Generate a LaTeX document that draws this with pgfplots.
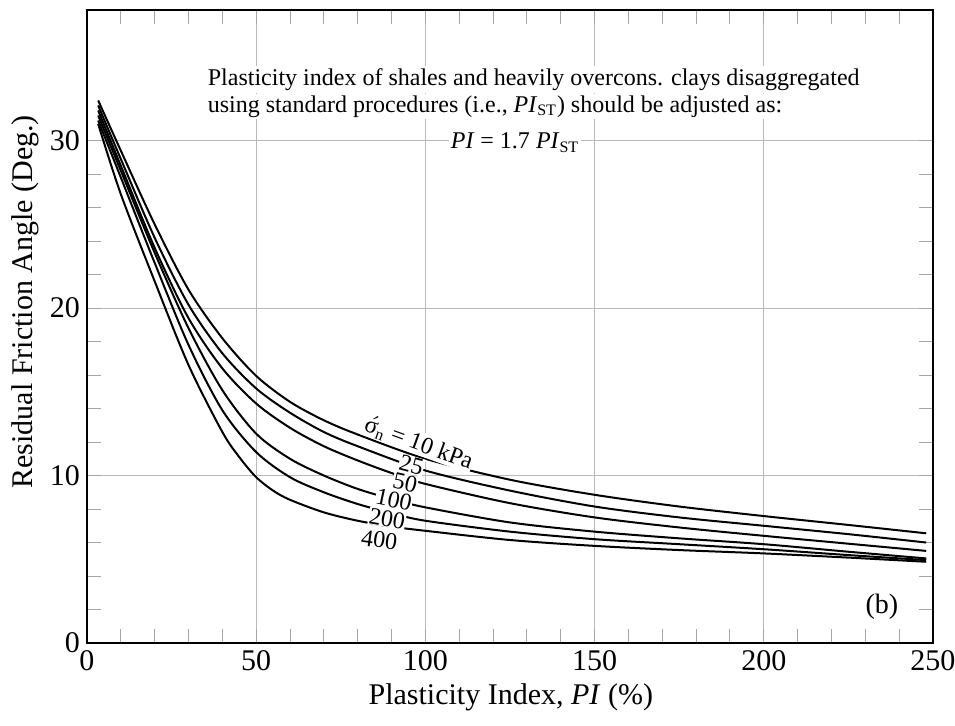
\documentclass[border=0pt]{standalone}
\usepackage{fontspec}
\setmainfont{Liberation Serif}
\usepackage{pgfplots}
\pgfplotsset{compat=1.18}
\begin{document}
\begin{tikzpicture}[crv/.style={black, line width=1pt, smooth, tension=0.5, no markers}]
\path[use as bounding box] (-43.5pt,-41pt) rectangle (434pt,321.5pt);
\begin{axis}[
  scale only axis, width=423pt, height=316.5pt,
  xmin=0, xmax=250, ymin=0, ymax=37.8,
  xtick={0,50,100,150,200,250}, ytick={0,10,20,30},
  minor x tick num=4, minor y tick num=4,
  grid=major, major grid style={gray!55, line width=0.5pt},
  axis line style={black, line width=1pt},
  tick style={gray!70, line width=0.5pt},
  major tick length=7pt, minor tick length=7pt,
  tick label style={font=\fontsize{15}{18}\selectfont},
  /pgf/number format/assume math mode=true,
  xlabel={Plasticity Index, \textit{PI} (\%)},
  ylabel={Residual Friction Angle (Deg.)},
  label style={font=\fontsize{15}{18}\selectfont},
  xlabel style={at={(axis description cs:0.501,-0.0853)}, anchor=center},
  ylabel style={at={(axis description cs:-0.0733,0.539)}, anchor=center},
]
% sigma'_n = 10 kPa
\addplot[crv] coordinates {(3.3,32.4)(10,29.4)(20,25.0)(30,21.1)(40,18.2)(50,15.95)(60,14.4)(70,13.3)(80,12.45)(100,11.0)(125,9.75)(150,8.85)(175,8.15)(200,7.58)(225,7.05)(248,6.55)};
% 25 kPa
\addplot[crv] coordinates {(3.3,32.1)(10,28.9)(20,24.2)(30,20.2)(40,17.3)(50,15.2)(60,13.75)(70,12.6)(80,11.75)(100,10.3)(125,9.1)(150,8.15)(175,7.5)(200,7.0)(225,6.5)(248,6.0)};
% 50 kPa
\addplot[crv] coordinates {(3.3,31.8)(10,28.5)(20,23.6)(30,19.4)(40,16.4)(50,14.3)(60,12.85)(70,11.75)(80,10.9)(90,10.15)(100,9.5)(125,8.35)(150,7.5)(175,6.9)(200,6.4)(225,5.93)(248,5.5)};
% 100 kPa
\addplot[crv] coordinates {(3.3,31.5)(10,28.2)(20,23.3)(30,18.8)(40,15.1)(50,12.5)(60,11.0)(70,10.0)(80,9.2)(90,8.6)(100,8.1)(125,7.2)(150,6.65)(175,6.25)(200,5.9)(225,5.45)(248,5.05)};
% 200 kPa
\addplot[crv] coordinates {(3.3,31.2)(10,27.8)(20,22.7)(30,17.8)(40,13.9)(50,11.4)(60,9.9)(70,9.0)(80,8.3)(90,7.75)(100,7.3)(125,6.65)(150,6.2)(175,5.9)(200,5.6)(225,5.25)(248,4.95)};
% 400 kPa
\addplot[crv] coordinates {(3.3,31.0)(10,26.8)(20,21.6)(30,16.6)(40,12.6)(45,11.1)(50,9.9)(55,9.1)(60,8.55)(70,7.8)(80,7.3)(90,6.95)(100,6.7)(125,6.15)(150,5.8)(175,5.55)(200,5.35)(225,5.1)(248,4.85)};
\begin{scope}[every node/.style={fill=white, inner sep=0.3pt, font=\fontsize{12}{14}\selectfont}]
\node[rotate=-20] at (axis cs:98.1,11.94) {$\acute{\hbox{σ}}$\textsubscript{n} = 10 kPa};
\node[rotate=-15] at (axis cs:95.9,10.63) {25};
\node[rotate=-13] at (axis cs:94.0,9.57) {50};
\node[rotate=-12] at (axis cs:90.7,8.54) {100};
\node[rotate=-10] at (axis cs:88.7,7.44) {200};
\node[rotate=-8] at (axis cs:86.4,6.15) {400};
\end{scope}
\begin{scope}[every node/.style={fill=white, inner sep=1pt, font=\fontsize{12}{14}\selectfont}]
\node[anchor=base west] at (axis cs:35,31.7) {using standard procedures (i.e., \textit{PI}\textsubscript{ST}) should be adjusted as:};
\node[anchor=base west] at (axis cs:35,33.3) {Plasticity index of shales and heavily overcons. clays disaggregated};
\node[anchor=base] at (axis cs:126.5,29.5) {\textit{PI} = 1.7 \textit{PI}\textsubscript{ST}};
\node[fill=none, font=\fontsize{14}{16}\selectfont] at (axis cs:234.9,2.15) {(b)};
\end{scope}
\end{axis}
\end{tikzpicture}
\end{document}
